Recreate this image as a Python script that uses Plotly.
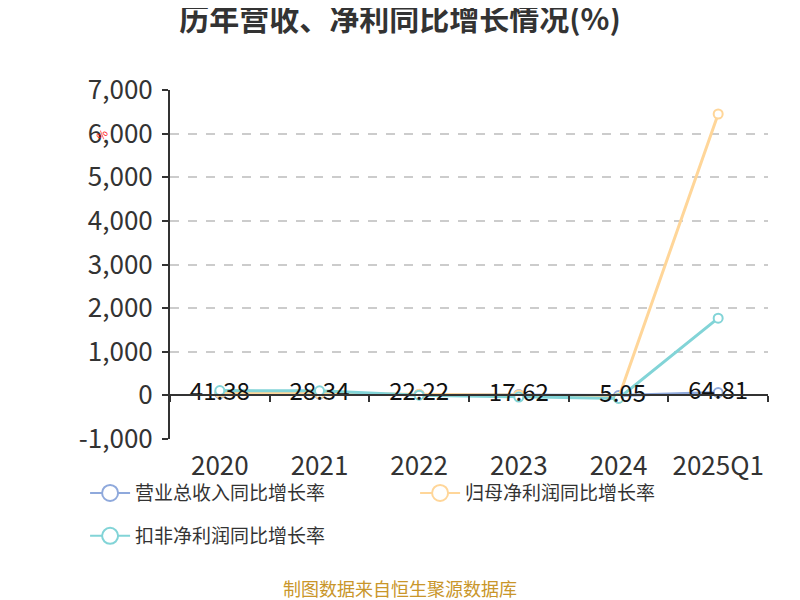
import plotly.graph_objects as go

categories = ["2020", "2021", "2022", "2023", "2024", "2025Q1"]
revenue_growth = [41.38, 28.34, 22.22, 17.62, -5.05, 64.81]
net_profit_growth = [60, 40, 25, 10, -60, 6450]
deducted_profit_growth = [110, 105, 5, -40, -70, 1770]
y_tickvals = [-1000, 0, 1000, 2000, 3000, 4000, 5000, 6000, 7000]
y_ticktext = ["-1,000", "0", "1,000", "2,000", "3,000", "4,000", "5,000", "6,000", "7,000"]
series_names = ["营业总收入同比增长率", "归母净利润同比增长率", "扣非净利润同比增长率"]

FONT = "Noto Sans CJK SC, Noto Sans, sans-serif"
c_blue = "#8fa9dc"
c_orange = "#ffd699"
c_teal = "#82d4d7"
colors = [c_blue, c_orange, c_teal]
legends = ["legend", "legend", "legend2"]

fig = go.Figure()

for name, vals, color in zip(series_names,
                             [revenue_growth, net_profit_growth, deducted_profit_growth],
                             colors):
    fig.add_trace(go.Scatter(
        x=categories, y=vals, name=name, mode="lines+markers",
        line=dict(color=color, width=3), showlegend=False,
        marker=dict(symbol="circle", size=9, color="white",
                    line=dict(color=color, width=2)),
    ))

# legend proxies (no data)
for name, color, lg in zip(series_names, colors, legends):
    fig.add_trace(go.Scatter(
        x=[None], y=[None], name=name, mode="lines+markers", legend=lg,
        line=dict(color=color, width=2),
        marker=dict(symbol="circle", size=16, color="white",
                    line=dict(color=color, width=2)),
    ))

# dummy trace for zero-line x axis with boundary ticks
fig.add_trace(go.Scatter(
    x=categories, y=revenue_growth, xaxis="x2", mode="lines",
    line=dict(width=0), opacity=0, showlegend=False, hoverinfo="skip",
))

# labels on top
fig.add_trace(go.Scatter(
    x=categories, y=revenue_growth, mode="text",
    text=[f"{v:.2f}" for v in revenue_growth], textposition="middle center",
    textfont=dict(size=24, color="#111111", family=FONT),
    showlegend=False, hoverinfo="skip", cliponaxis=False,
))

ymin, ymax = -1000, 7000
zero_pos = (0 - ymin) / (ymax - ymin)

legend_common = dict(
    orientation="h", xanchor="left", yanchor="middle",
    yref="paper", xref="paper", bgcolor="rgba(0,0,0,0)",
    font=dict(size=19, color="#333333", family=FONT),
    itemwidth=40, tracegroupgap=0,
)

fig.update_layout(
    width=800, height=600,
    paper_bgcolor="white", plot_bgcolor="white",
    margin=dict(l=162, r=40, t=82, b=169, autoexpand=False),
    font=dict(family=FONT, color="#333333"),
    title=dict(text="<b>历年营收、净利同比增长情况(%)</b>", x=0.49, xanchor="center",
               y=0.998, yanchor="top",
               font=dict(size=30, color="#333333", family=FONT)),
    xaxis=dict(
        type="category", range=[-0.5, 5.5], showline=False, showgrid=False,
        zeroline=False, ticks="", tickfont=dict(size=26, color="#333333"),
        ticklabelstandoff=9,
    ),
    xaxis2=dict(
        type="category", range=[-0.5, 5.5], overlaying="x", anchor="free",
        position=zero_pos, showline=True, linecolor="#333333", linewidth=2,
        ticks="outside", tickson="boundaries", ticklen=6, tickcolor="#333333",
        tickwidth=1.5, showticklabels=False, showgrid=False, zeroline=False,
        side="bottom",
    ),
    yaxis=dict(
        range=[ymin, ymax], tickvals=y_tickvals, ticktext=y_ticktext,
        showline=True, linecolor="#333333", linewidth=2,
        ticks="outside", ticklen=6, tickcolor="#333333", tickwidth=1.5,
        showgrid=True, gridcolor="#cccccc", griddash="dash", gridwidth=1.5,
        zeroline=False, tickfont=dict(size=26, color="#333333"),
        ticklabelstandoff=4,
    ),
    legend=dict(x=-0.142, y=-0.155, entrywidth=275, entrywidthmode="pixels",
                **legend_common),
    legend2=dict(x=-0.142, y=-0.278, **legend_common),
    annotations=[
        dict(text="制图数据来自恒生聚源数据库", xref="paper", yref="paper",
             x=0.385, y=-0.427, xanchor="center", yanchor="middle",
             showarrow=False, font=dict(size=18, color="#c9962a", family=FONT)),
        dict(text="%", xref="paper", yref="y", x=-0.135, y=6000,
             showarrow=False, textangle=-50,
             font=dict(size=11, color="red", family=FONT)),
    ],
)

fig.write_html("out.html")
